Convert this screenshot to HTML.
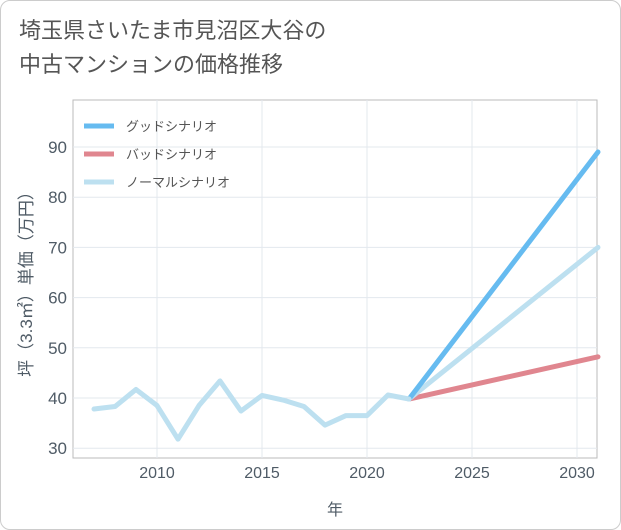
<!DOCTYPE html>
<html><head><meta charset="utf-8"><style>
body{margin:0;background:#fff;font-family:"Liberation Sans","Noto Sans CJK JP",sans-serif;}
#wrap{position:relative;width:619px;height:528px;border:1px solid #ccc;border-radius:10px;overflow:hidden;}
.title{position:absolute;left:18px;top:13px;font-size:22px;line-height:34px;color:#555;}
</style></head><body>
<div id="wrap">
<div class="title">埼玉県さいたま市見沼区大谷の<br>中古マンションの価格推移</div>
<svg id="c" width="621" height="530" style="position:absolute;left:-1px;top:-1px"></svg>
</div>
<script>
const years=[2007,2008,2009,2010,2011,2012,2013,2014,2015,2016,2017,2018,2019,2020,2021,2022];
const prices=[37.8,38.3,41.7,38.5,31.8,38.5,43.4,37.4,40.5,39.6,38.3,34.6,36.5,36.5,40.6,39.8];
const scenYears=[2022,2031];
const goodVals=[39.8,89];
const badVals=[39.8,48.2];
const normVals=[39.8,70];
const xTicks=[2010,2015,2020,2025,2030];
const yTicks=[30,40,50,60,70,80,90];
const NS="http://www.w3.org/2000/svg";
const svg=document.getElementById('c');
const X=v=>157+(v-2010)*21, Y=v=>398-(v-40)*5.02;
const L=73,R=597,T=100,B=458;
const TXT='#4f5b66';
function el(t,a){const e=document.createElementNS(NS,t);for(const k in a)e.setAttribute(k,a[k]);svg.appendChild(e);return e;}
let r=el('rect',{x:L,y:T,width:R-L,height:B-T,fill:'#fff',stroke:'#bbb'});


xTicks.forEach(v=>{const g=el('line',{x1:X(v),x2:X(v),y1:T,y2:B,stroke:'#e3e8ee'});


const t=el('text',{x:X(v),y:478,'text-anchor':'middle','font-size':16,fill:TXT});t.textContent=v;

});
yTicks.forEach(v=>{const g=el('line',{x1:L,x2:R,y1:Y(v),y2:Y(v),stroke:'#e3e8ee'});


const t=el('text',{x:67,y:Y(v)+6,'text-anchor':'end','font-size':17,fill:TXT});t.textContent=v;

});
function line(xs,ys,c,n){const p=el('polyline',{points:xs.map((x,i)=>X(x)+','+Y(ys[i])).join(' '),fill:'none',stroke:c,'stroke-width':5,'stroke-linejoin':'round','stroke-linecap':'round'});

}
line(scenYears,badVals,'#e0868f','bad-scenario-line');
line(scenYears,normVals,'#bde0f0','normal-scenario-line');
line(scenYears,goodVals,'#66bbf0','good-scenario-line');
line(years,prices,'#bde0f0','historical-line');
const leg=[['グッドシナリオ','#66bbf0'],['バッドシナリオ','#e0868f'],['ノーマルシナリオ','#bde0f0']];
leg.forEach((d,i)=>{const y=126+i*28;const l=el('line',{x1:84,x2:114,y1:y,y2:y,stroke:d[1],'stroke-width':5});


const t=el('text',{x:126,y:y+5,'font-size':13,fill:'#555'});t.textContent=d[0];

});
let xt=el('text',{x:335,y:515,'text-anchor':'middle','font-size':16,fill:TXT});xt.textContent='年';


let yt=el('text',{x:0,y:0,'text-anchor':'middle','font-size':17,fill:TXT,transform:'translate(32,280) rotate(-90)'});yt.textContent='坪（3.3㎡）単価（万円）';


</script>
</body></html>
